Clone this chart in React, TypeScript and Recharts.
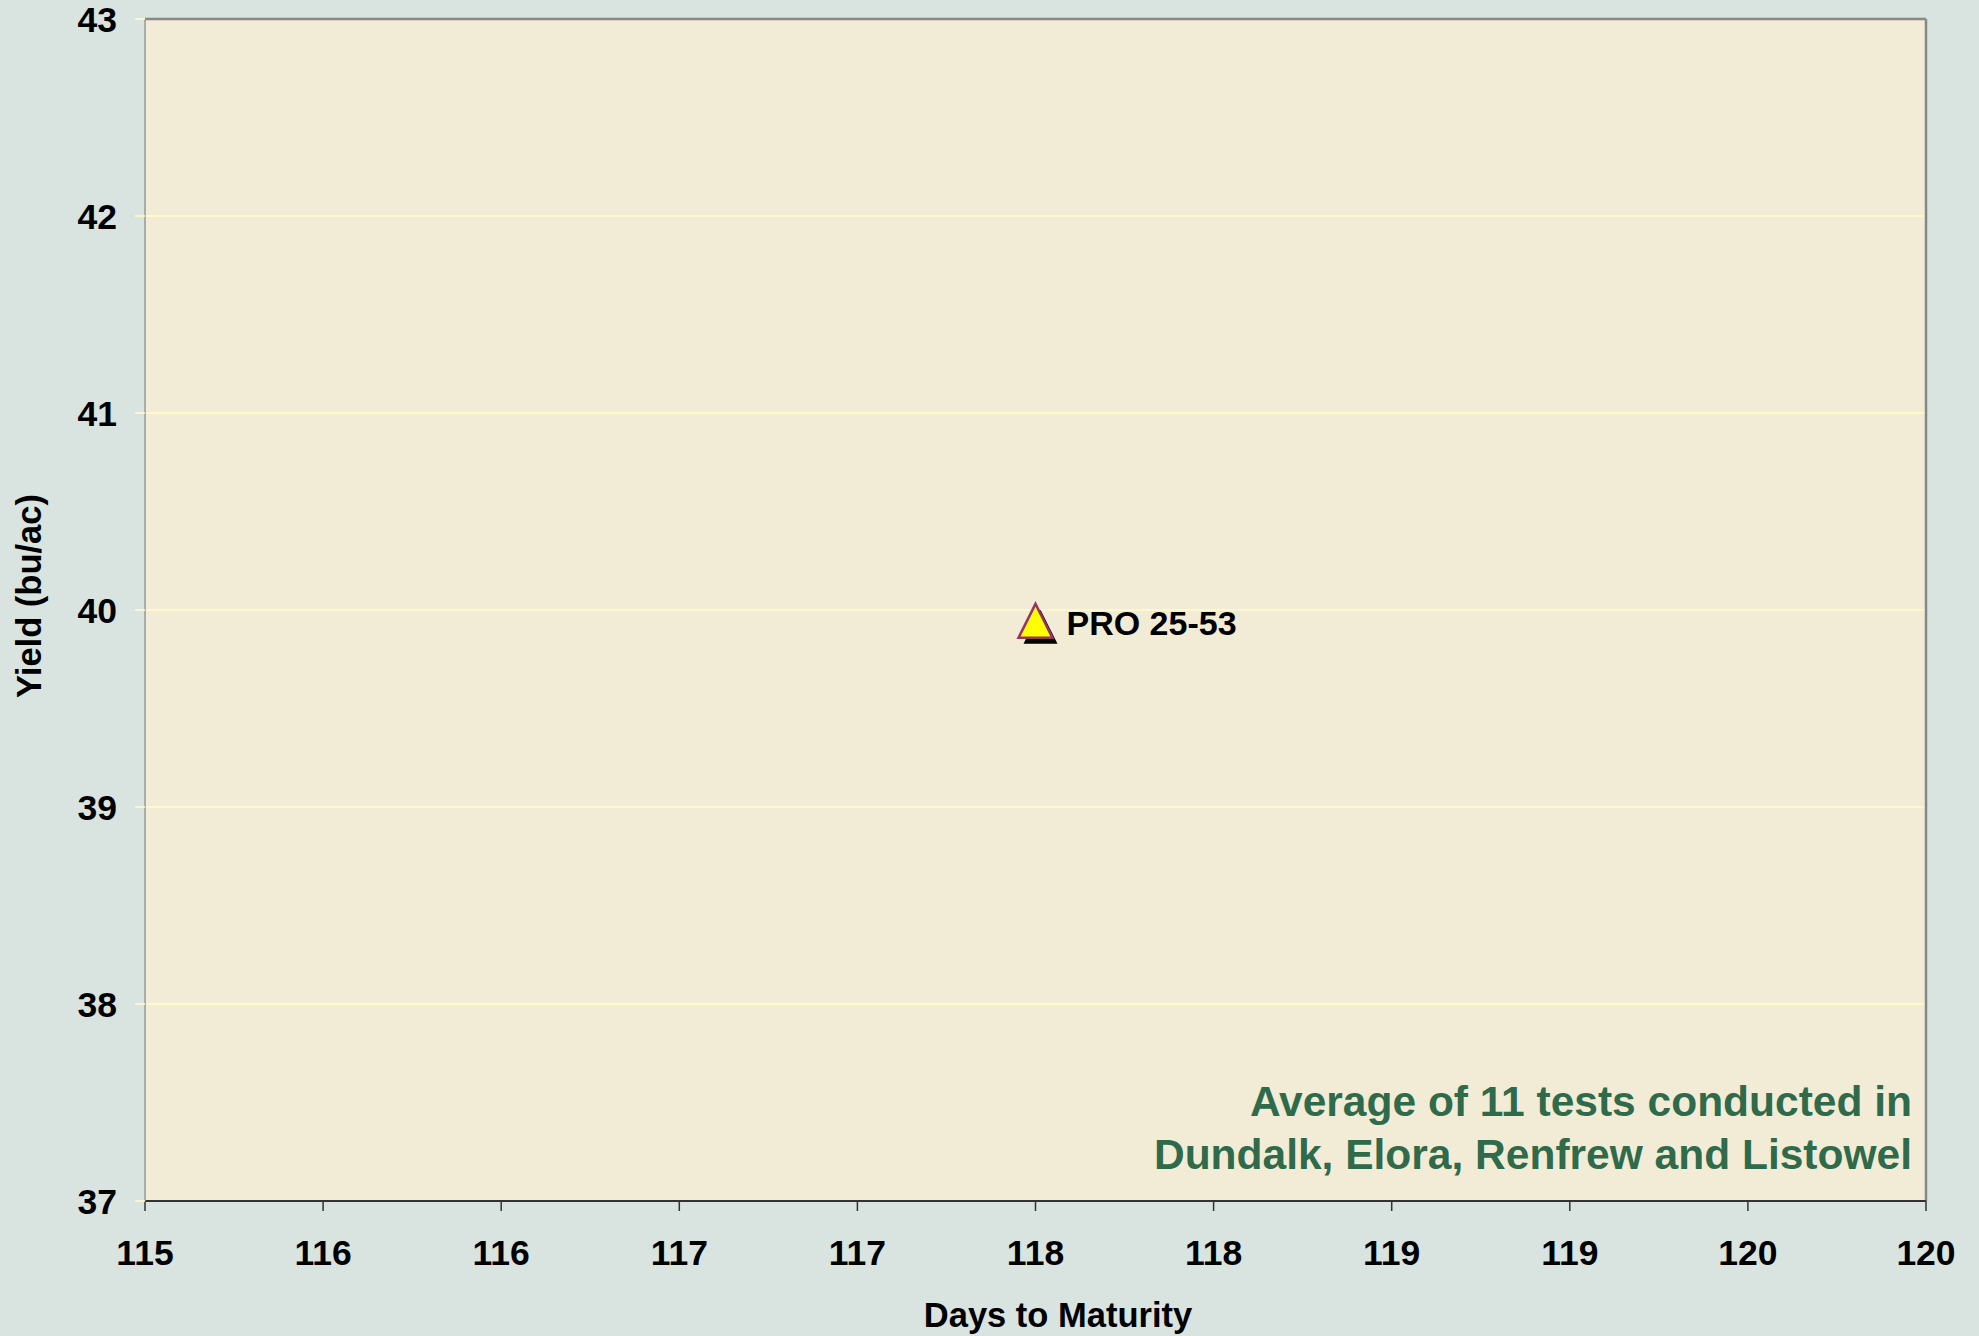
import React from 'react';
import {
  ScatterChart,
  Scatter,
  XAxis,
  YAxis,
  CartesianGrid,
  ReferenceLine,
  Label,
} from 'recharts';

// ---- data ----
const varieties = ['PRO 25-53'];
const daysToMaturity = [117.5];
const yieldBuAc = [39.94];

const xTicks = [115, 115.5, 116, 116.5, 117, 117.5, 118, 118.5, 119, 119.5, 120];
const xTickLabels = ['115', '116', '116', '117', '117', '118', '118', '119', '119', '120', '120'];
const yTicks = [37, 38, 39, 40, 41, 42, 43];

const xTitle = 'Days to Maturity';
const yTitle = 'Yield (bu/ac)';
const noteLines = ['Average of 11 tests conducted in', 'Dundalk, Elora, Renfrew and Listowel'];

const data = varieties.map((name, i) => ({ name, x: daysToMaturity[i], y: yieldBuAc[i] }));

const FONT = '"Liberation Sans", Arial, Helvetica, sans-serif';
const BG = '#D9E3E0';
const PLOT = '#F2ECD7';
const GRID = '#FFFFC8';

const TriangleShape = (props: any) => {
  const { cx, cy, payload } = props;
  if (cx == null || cy == null) return null;
  const tri = (dx: number, dy: number) =>
    `${cx + dx},${cy - 18 + dy} ${cx + 17 + dx},${cy + 16 + dy} ${cx - 17 + dx},${cy + 16 + dy}`;
  return (
    <g>
      <polygon points={tri(5, 6)} fill="#000" />
      <polygon points={tri(0, 0)} fill="#FFFF00" stroke="#993366" strokeWidth={2.5} strokeLinejoin="miter" />
      <text
        x={cx + 31}
        y={cy + 1}
        dominantBaseline="central"
        fontFamily={FONT}
        fontWeight="bold"
        fontSize={34}
        fill="#000"
      >
        {payload.name}
      </text>
    </g>
  );
};

export default function App() {
  const tickStyle = { fill: '#000', fontSize: 35.5, fontWeight: 'bold', fontFamily: FONT };
  return (
    <div style={{ position: 'absolute', left: 0, top: 0, width: 1979, height: 1336, background: BG, fontFamily: FONT }}>
      <ScatterChart
        width={1979}
        height={1336}
        margin={{ top: 19, right: 53, bottom: 0, left: 0 }}
        style={{ background: BG }}
      >
        <CartesianGrid horizontal vertical={false} stroke={GRID} strokeWidth={1.5} fill={PLOT} fillOpacity={1} />
        <XAxis
          type="number"
          dataKey="x"
          domain={[115, 120]}
          ticks={xTicks}
          interval={0}
          allowDecimals
          tickFormatter={(v: number, i: number) => xTickLabels[i] ?? String(v)}
          height={135}
          tickSize={10}
          tickMargin={29}
          axisLine={{ stroke: '#333', strokeWidth: 2 }}
          tickLine={{ stroke: '#333', strokeWidth: 1.5 }}
          tick={tickStyle}
        >
          <Label
            content={() => (
              <text
                x={1058}
                y={1327}
                textAnchor="middle"
                fontFamily={FONT}
                fontWeight="bold"
                fontSize={34.5}
                fill="#000"
              >
                {xTitle}
              </text>
            )}
          />
        </XAxis>
        <YAxis
          type="number"
          dataKey="y"
          domain={[37, 43]}
          ticks={yTicks}
          interval={0}
          width={145}
          tickSize={10}
          tickMargin={18}
          axisLine={{ stroke: '#999', strokeWidth: 1.5 }}
          tickLine={{ stroke: GRID, strokeWidth: 1.5 }}
          tick={tickStyle}
        >
          <Label
            content={() => (
              <text
                x={29}
                y={596}
                transform="rotate(-90, 29, 596)"
                textAnchor="middle"
                dominantBaseline="central"
                fontFamily={FONT}
                fontWeight="bold"
                fontSize={34.5}
                fill="#000"
              >
                {yTitle}
              </text>
            )}
          />
        </YAxis>
        <ReferenceLine y={43} stroke="#888" strokeWidth={2.5} />
        <ReferenceLine x={120} stroke="#888" strokeWidth={2.5} />
        <Scatter data={data} isAnimationActive={false} shape={TriangleShape} />
      </ScatterChart>
      <div
        style={{
          position: 'absolute',
          right: 67,
          top: 1075,
          textAlign: 'right',
          color: '#2F6B4B',
          fontFamily: FONT,
          fontWeight: 'bold',
          fontSize: 42.5,
          lineHeight: '53px',
          whiteSpace: 'nowrap',
        }}
      >
        {noteLines.map((l, i) => (
          <div key={i}>{l}</div>
        ))}
      </div>
    </div>
  );
}
